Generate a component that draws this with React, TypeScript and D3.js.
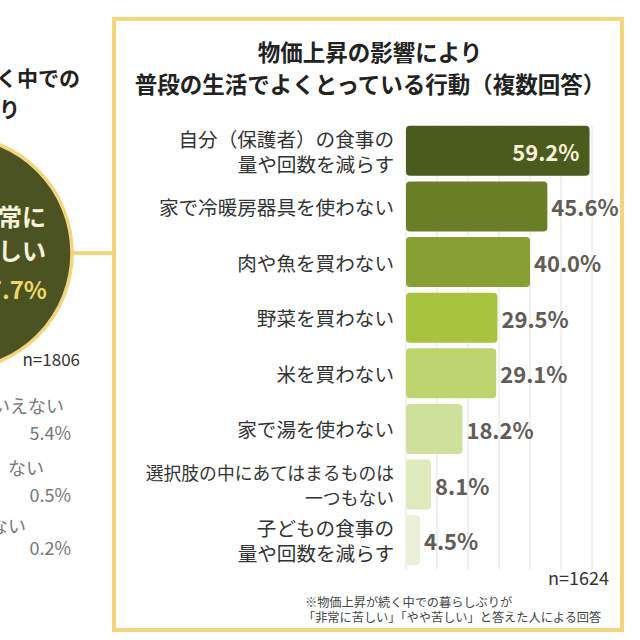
import * as d3 from "d3";

// bar chart data
const categories = [
  "自分（保護者）の食事の\n量や回数を減らす",
  "家で冷暖房器具を使わない",
  "肉や魚を買わない",
  "野菜を買わない",
  "米を買わない",
  "家で湯を使わない",
  "選択肢の中にあてはまるものは\n一つもない",
  "子どもの食事の\n量や回数を減らす",
];
const values = [59.2, 45.6, 40.0, 29.5, 29.1, 18.2, 8.1, 4.5];
const barColors = ["#4b5a1d", "#6a7e28", "#88a033", "#a7c33f", "#bdd46f", "#cfe09b", "#dfeabd", "#eaf1d8"];
const gridTicks = [0, 10, 20, 30, 40, 50, 60];

// left (partially visible) chart data
const leftTitle = ["物価上昇が続く中での", "暮らしぶり"];
const leftMain = { label: ["非常に", "苦しい"], value: "77.7%" };
const leftOthers = ["どちらともいえない", "あまり苦しく ない", "苦しくない"];
const leftOtherValues = ["5.4%", "0.5%", "0.2%"];

const FONT = "'Noto Sans CJK JP', 'Noto Sans', sans-serif";
const GOLD = "#f2d57c";

export default function App() {
  const width = 640;
  const height = 640;

  const x = d3.scaleLinear().domain([0, 60]).range([406, 592]);
  const y = d3
    .scaleBand()
    .domain(categories)
    .range([123, 568])
    .paddingInner(0.1)
    .paddingOuter(0.05);

  const gridTop = y(categories[0])!;
  const gridBottom = y(categories[categories.length - 1])! + y.bandwidth() + 4;

  return (
    <svg
      width={width}
      height={height}
      style={{ position: "absolute", left: 0, top: 0, background: "#fff" }}
      fontFamily={FONT}
    >
      <rect width={width} height={height} fill="#fff" />

      {/* left chart fragment */}
      {leftTitle.map((t, i) => (
        <text
          key={t}
          x={i === 0 ? 80 : 20}
          y={77 + i * 31}
          textAnchor="end"
          dominantBaseline="central"
          fontSize={21}
          fontWeight={700}
          fill="#222"
        >
          {t}
        </text>
      ))}
      <line x1={60} x2={116} y1={253} y2={253} stroke={GOLD} strokeWidth={4} />
      <circle cx={-45} cy={253} r={117} fill="#4a5321" stroke={GOLD} strokeWidth={3.5} />
      {leftMain.label.map((t, i) => (
        <text
          key={t}
          x={46}
          y={215 + i * 34}
          textAnchor="end"
          dominantBaseline="central"
          fontSize={24}
          fontWeight={700}
          fill="#f6f2dc"
        >
          {t}
        </text>
      ))}
      <text
        x={47}
        y={288}
        textAnchor="end"
        dominantBaseline="central"
        fontSize={24}
        fontWeight={700}
        fill="#f0d466"
      >
        {leftMain.value}
      </text>
      <text x={80} y={358} textAnchor="end" dominantBaseline="central" fontSize={17} fill="#333">
        n=1806
      </text>
      {leftOthers.map((t, i) => (
        <g key={t}>
          <text
            x={[64, 44, 26][i]}
            y={[405, 467, 525][i]}
            textAnchor="end"
            dominantBaseline="central"
            fontSize={18}
            fill="#777"
          >
            {t}
          </text>
          <text
            x={71}
            y={[432, 494, 547][i]}
            textAnchor="end"
            dominantBaseline="central"
            fontSize={18}
            fill="#777"
          >
            {leftOtherValues[i]}
          </text>
        </g>
      ))}

      {/* box */}
      <rect x={114} y={19} width={508} height={611} fill="#fff" stroke={GOLD} strokeWidth={4} />

      {/* title */}
      <text x={370} y={51} textAnchor="middle" dominantBaseline="central" fontSize={22.5} fontWeight={700} fill="#222">
        物価上昇の影響により
      </text>
      <text x={370} y={83} textAnchor="middle" dominantBaseline="central" fontSize={22.5} fontWeight={700} fill="#222">
        普段の生活でよくとっている行動（複数回答）
      </text>

      {/* grid */}
      {gridTicks.map((t) => (
        <line
          key={t}
          x1={x(t)}
          x2={x(t)}
          y1={gridTop}
          y2={gridBottom}
          stroke="#e2e2e2"
          strokeWidth={1}
        />
      ))}

      {/* bars */}
      {categories.map((c, i) => {
        const by = y(c)!;
        const bw = x(values[i]) - x(0);
        const cy = by + y.bandwidth() / 2;
        const inside = i === 0;
        const lines = c.split("\n");
        const longest = d3.max(lines, (l) => l.length)!;
        const fs = longest > 12 ? 17.8 : 19.6;
        return (
          <g key={c}>
            <rect x={x(0)} y={by} width={bw} height={y.bandwidth()} rx={4} fill={barColors[i]} />
            <text
              x={inside ? x(values[i]) - 10 : x(values[i]) + 4}
              y={cy}
              textAnchor={inside ? "end" : "start"}
              dominantBaseline="central"
              fontSize={22}
              fontWeight={700}
              fill={inside ? "#f4f1d6" : "#625c57"}
            >
              {values[i].toFixed(1)}%
            </text>
            {lines.map((l, j) => (
              <text
                key={l}
                x={394}
                y={cy + (j - (lines.length - 1) / 2) * 24.5}
                textAnchor="end"
                dominantBaseline="central"
                fontSize={fs}
                fill="#333"
              >
                {l}
              </text>
            ))}
          </g>
        );
      })}

      <text x={609} y={577} textAnchor="end" dominantBaseline="central" fontSize={18} fill="#333">
        n=1624
      </text>
      <text x={305} y={602} dominantBaseline="central" fontSize={12.2} fill="#444">
        ※物価上昇が続く中での暮らしぶりが
      </text>
      <text x={303} y={617} dominantBaseline="central" fontSize={12.2} fill="#444">
        「非常に苦しい」「やや苦しい」と答えた人による回答
      </text>
    </svg>
  );
}
